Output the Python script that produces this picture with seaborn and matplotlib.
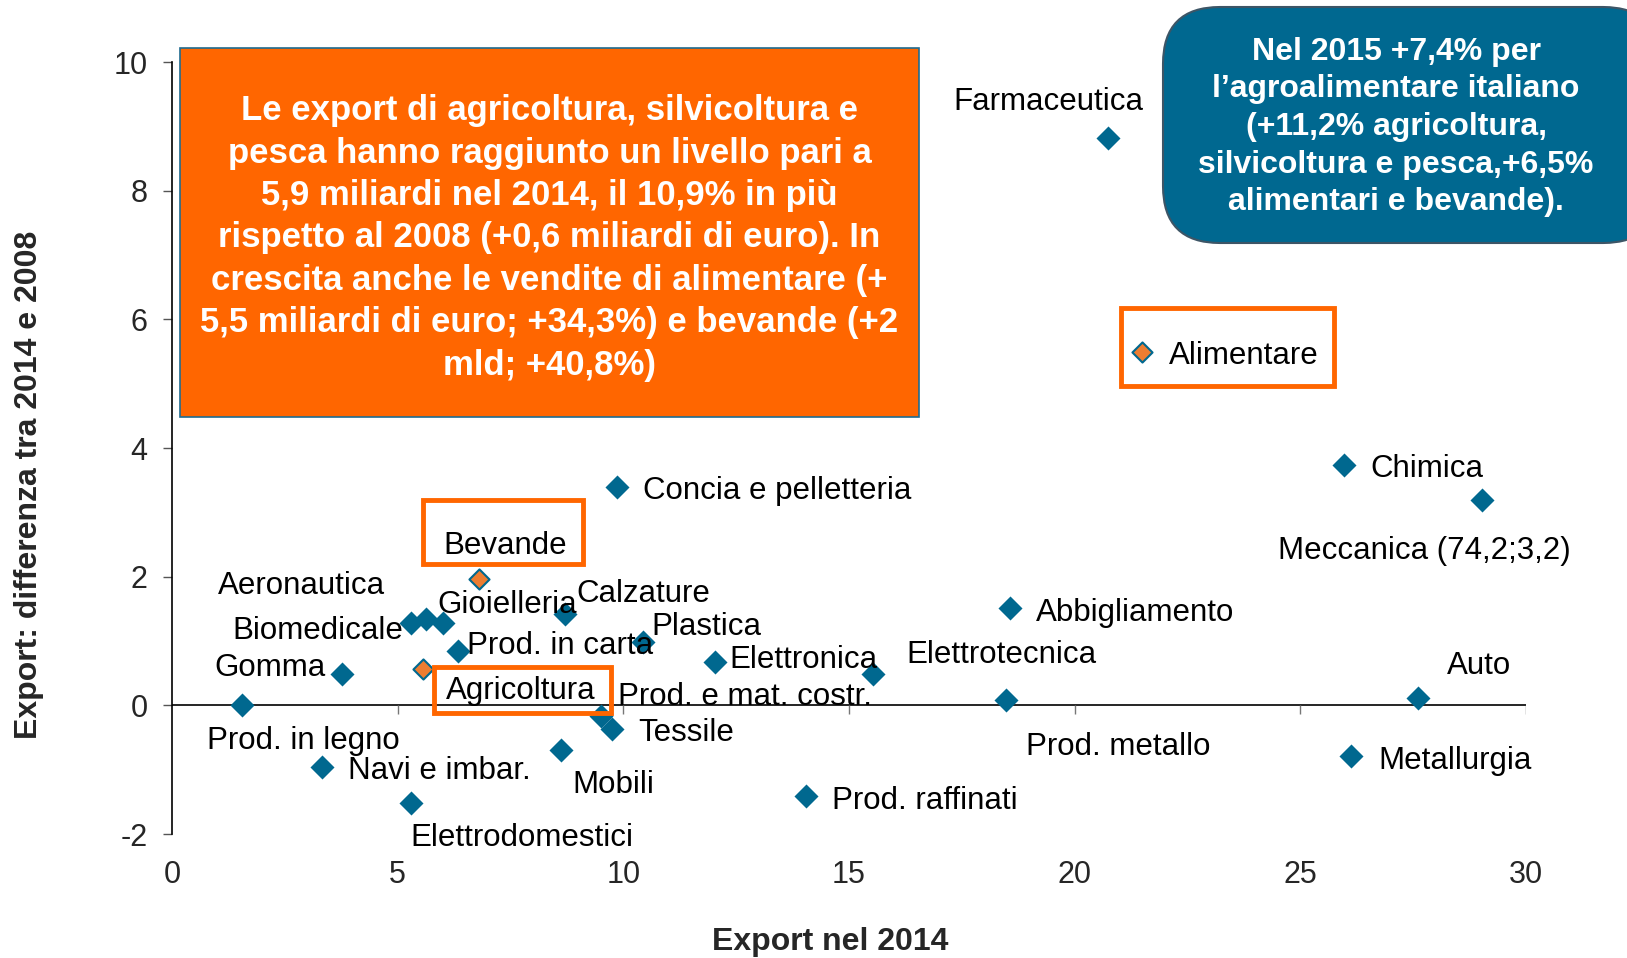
import matplotlib
matplotlib.use("Agg")
import matplotlib.pyplot as plt
from matplotlib.patches import Rectangle, FancyBboxPatch
import seaborn as sns
import pandas as pd

# data
settori = [
    "Farmaceutica", "Alimentare", "Chimica", "Meccanica (74,2;3,2)", "Auto",
    "Metallurgia", "Abbigliamento", "Elettrotecnica", "Prod. metallo",
    "Prod. raffinati", "Elettronica", "Concia e pelletteria", "Plastica",
    "Prod. in carta", "Calzature", "Gioielleria", "Biomedicale", "Aeronautica",
    "Gomma", "Prod. in legno", "Navi e imbar.", "Elettrodomestici", "Mobili",
    "Tessile", "Prod. e mat. costr.", "Bevande", "Agricoltura",
]
export_2014 = [
    20.74, 21.5, 25.96, 29.02, 27.6,
    26.12, 18.56, 15.53, 18.48,
    14.05, 12.03, 9.86, 10.43,
    6.34, 8.71, 6.00, 5.29, 5.63,
    3.77, 1.55, 3.32, 5.29, 8.62,
    9.75, 9.50, 6.80, 5.56,
]
diff_2014_2008 = [
    8.82, 5.49, 3.73, 3.19, 0.11,
    -0.79, 1.52, 0.48, 0.08,
    -1.41, 0.68, 3.39, 0.98,
    0.84, 1.42, 1.28, 1.28, 1.34,
    0.48, 0.0, -0.96, -1.52, -0.70,
    -0.37, -0.17, 1.97, 0.56,
]
agro = ["Alimentare", "Bevande", "Agricoltura"]
gruppo = ["agro" if s in agro else "altri" for s in settori]

x_ticks = [0, 5, 10, 15, 20, 25, 30]
y_ticks = [-2, 0, 2, 4, 6, 8, 10]
y_ticklabels = ["-2", "0", "2", "4", "6", "8", "10"]

testo_arancio = ("Le export di agricoltura, silvicoltura e\n"
                 "pesca hanno raggiunto un livello pari a\n"
                 "5,9 miliardi nel 2014, il 10,9% in più\n"
                 "rispetto al 2008 (+0,6 miliardi di euro). In\n"
                 "crescita anche le vendite di alimentare (+\n"
                 "5,5 miliardi di euro; +34,3%) e bevande (+2\n"
                 "mld; +40,8%)")
testo_blu = ("Nel 2015 +7,4% per\n"
             "l\u2019agroalimentare italiano\n"
             "(+11,2% agricoltura,\n"
             "silvicoltura e pesca,+6,5%\n"
             "alimentari e bevande).")

# label placement (pixel offsets from the marker, alignment)
label_pos = {
    "Farmaceutica": (-60, 40, "center"),
    "Alimentare": (27, 0, "left"),
    "Chimica": (27, 0, "left"),
    "Meccanica (74,2;3,2)": (-57, -47, "center"),
    "Auto": (61, 36, "center"),
    "Metallurgia": (27, -1, "left"),
    "Abbigliamento": (26, -1, "left"),
    "Elettrotecnica": (33, 23, "left"),
    "Prod. metallo": (112, -43, "center"),
    "Prod. raffinati": (26, -1, "left"),
    "Elettronica": (14, 6, "left"),
    "Concia e pelletteria": (26, 0, "left"),
    "Plastica": (9, 19, "left"),
    "Prod. in carta": (9, 9, "left"),
    "Calzature": (11, 24, "left"),
    "Gioielleria": (-5, 22, "left"),
    "Biomedicale": (-8, -4, "right"),
    "Aeronautica": (-125, 37, "center"),
    "Gomma": (-17, 10, "right"),
    "Prod. in legno": (61, -32, "center"),
    "Navi e imbar.": (26, 0, "left"),
    "Elettrodomestici": (111, -31, "center"),
    "Mobili": (52, -31, "center"),
    "Tessile": (26, 0, "left"),
    "Prod. e mat. costr.": (17, 23, "left"),
    "Bevande": (26, 37, "center"),
    "Agricoltura": (98, -18, "center"),
}

BLU = "#00688F"
ARANCIO = "#ED7D31"
BORDO = "#FF6600"

sns.set_style("white")
plt.rcParams["font.family"] = ["Liberation Sans", "DejaVu Sans"]

W, H = 1627, 958
fig = plt.figure(figsize=(W / 100, H / 100), dpi=100)
ax = fig.add_axes([172 / W, 1 - 834 / H, (1526 - 172) / W, (834 - 62) / H])

df = pd.DataFrame({"settore": settori, "export": export_2014,
                   "diff": diff_2014_2008, "gruppo": gruppo})

altri = df[df.gruppo == "altri"]
sns.scatterplot(data=altri, x="export", y="diff", marker="D", s=150,
                color=BLU, edgecolor=BLU, linewidth=0, ax=ax, zorder=3)
sns.scatterplot(data=df[df.gruppo == "agro"], x="export", y="diff", marker="D",
                s=105, color=ARANCIO, edgecolor=BLU, linewidth=1.5, ax=ax, zorder=3)

ax.set_xlim(0, 30)
ax.set_ylim(-2, 10)
ax.set_xticks(x_ticks)
ax.set_yticks(y_ticks)
ax.set_yticklabels(y_ticklabels)
ax.set_xlabel("")
ax.set_ylabel("")
for s in ["top", "right", "bottom"]:
    ax.spines[s].set_visible(False)
ax.spines["left"].set_color("black")
ax.spines["left"].set_linewidth(1.2)
ax.tick_params(axis="y", left=True, length=6.5, width=1, color="#555555",
               pad=11, labelsize=22)
ax.tick_params(axis="x", bottom=False, length=0, pad=19, labelsize=22)

# x axis drawn through zero, with its tick marks
ax.axhline(0, color="black", lw=1.2, zorder=1)
ax.vlines(x_ticks[1:], -0.14, 0, color="#777777", lw=1, zorder=1)

for s, x, y in zip(settori, export_2014, diff_2014_2008):
    dx, dy, ha = label_pos[s]
    ax.annotate(s, (x, y), xytext=(dx, dy - 4), textcoords="offset pixels",
                ha=ha, va="center", fontsize=22.5, color="black", zorder=4)

fig.text(830 / W, 1 - 942 / H, "Export nel 2014", ha="center", va="center",
         fontsize=23, fontweight="bold")
fig.text(29 / W, 1 - 485 / H, "Export: differenza tra 2014 e 2008", ha="center",
         va="center", rotation=90, fontsize=23, fontweight="bold")


def px_box(x0, y0, x1, y1):
    return x0 / W, 1 - y1 / H, (x1 - x0) / W, (y1 - y0) / H


# orange highlight frames
for box in [(423, 500, 583, 564), (434, 667, 611, 713), (1121, 308, 1334, 386)]:
    bx, by, bw, bh = px_box(*box)
    fig.patches.append(Rectangle((bx, by), bw, bh, transform=fig.transFigure,
                                 facecolor="none", edgecolor=BORDO, lw=3.5,
                                 zorder=2))

# orange text box
bx, by, bw, bh = px_box(180, 48, 919, 417)
fig.patches.append(Rectangle((bx, by), bw, bh, transform=fig.transFigure,
                             facecolor=BORDO, edgecolor="#1F6B8F", lw=1.2,
                             zorder=5))
fig.text((180 + 919) / 2 / W, 1 - 238 / H, testo_arancio, ha="center",
         va="center", color="white", fontsize=25, fontweight="bold",
         linespacing=1.36, zorder=6)

# blue rounded box
bx, by, bw, bh = px_box(1163, 7, 1660, 243)
fig.patches.append(FancyBboxPatch((bx, by), bw, bh, transform=fig.transFigure,
                                  boxstyle="round,pad=0,rounding_size=0.035",
                                  mutation_aspect=W / H,
                                  facecolor="#006890", edgecolor="#3D5566",
                                  lw=1.5, zorder=5))
fig.text(1396 / W, 1 - 127 / H, testo_blu, ha="center", va="center",
         color="white", fontsize=23, fontweight="bold", linespacing=1.33,
         zorder=6)

fig.savefig("out.png", dpi=100)
